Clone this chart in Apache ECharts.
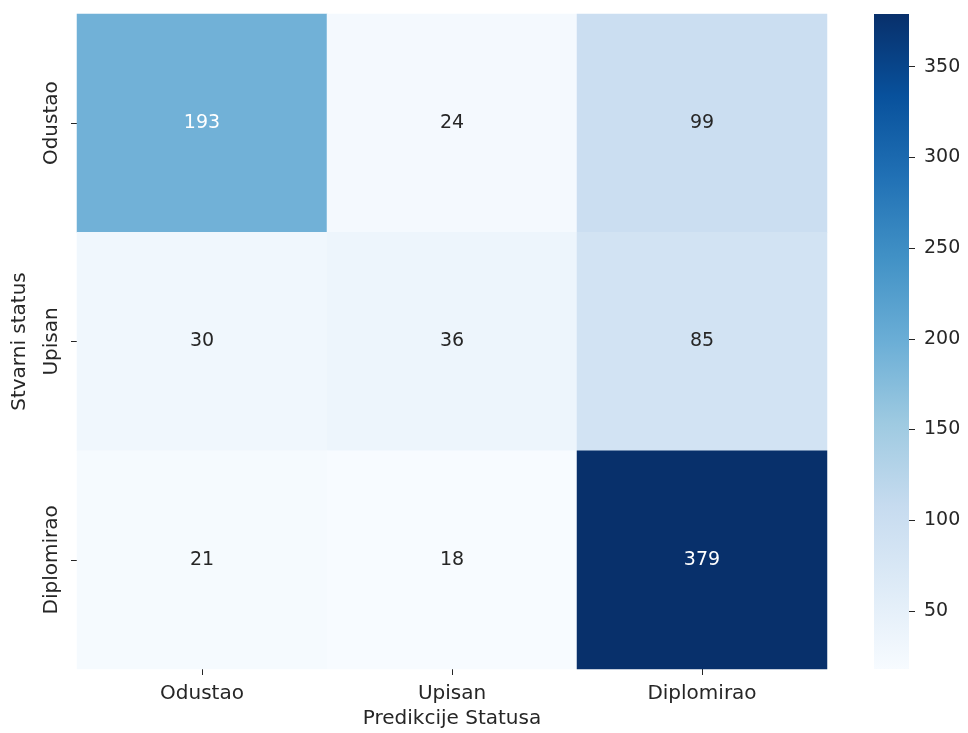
<!DOCTYPE html>
<html>
<head>
<meta charset="utf-8">
<script src="https://cdn.jsdelivr.net/npm/echarts@6/dist/echarts.min.js"></script>
<style>html,body{margin:0;padding:0;background:#fff;}#main{width:968px;height:733px;}</style>
</head>
<body>
<div id="main"></div>
<script>
const predictedLabels = ['Odustao', 'Upisan', 'Diplomirao'];
const actualLabels = ['Odustao', 'Upisan', 'Diplomirao'];
const matrix = [
  [193, 24, 99],
  [30, 36, 85],
  [21, 18, 379]
];
const colorbarTicks = [50, 100, 150, 200, 250, 300, 350];
const blues = ['#f7fbff', '#deebf7', '#c6dbef', '#9ecae1', '#6baed6', '#4292c6', '#2171b5', '#08519c', '#08306b'];

const FONT = 'DejaVu Sans';
const FS = 20;
const FN = 19;
const flat = matrix.flat();
const vMin = Math.min(...flat), vMax = Math.max(...flat);

const data = [];
matrix.forEach((row, r) => row.forEach((v, c) => {
  data.push({
    value: [c, r, v],
    label: { color: v > 180 ? '#ffffff' : '#262626' }
  });
}));

const gradStops = blues.map((c, i) => ({ offset: 1 - i / (blues.length - 1), color: c }));

const chart = echarts.init(document.getElementById('main'), null, { renderer: 'canvas' });
chart.setOption({
  animation: false,
  backgroundColor: '#ffffff',
  textStyle: { fontFamily: FONT },
  grid: [
    { left: 77, top: 14, width: 750, height: 655, outerBoundsMode: 'none', containLabel: false },
    { left: 874, top: 14, width: 35, height: 655, outerBoundsMode: 'none', containLabel: false }
  ],
  xAxis: [
    {
      type: 'category', gridIndex: 0, data: predictedLabels,
      name: 'Predikcije Statusa', nameLocation: 'middle', nameGap: 40,
      nameTextStyle: { fontFamily: FONT, fontSize: FS, color: '#262626' },
      axisLine: { show: false },
      axisTick: { show: true, alignWithLabel: true, length: 6, lineStyle: { color: '#262626' } },
      axisLabel: { fontFamily: FONT, fontSize: FS, color: '#262626', margin: 15 },
      splitLine: { show: false }
    },
    { type: 'category', gridIndex: 1, show: false, data: [''] }
  ],
  yAxis: [
    {
      type: 'category', gridIndex: 0, data: actualLabels, inverse: true,
      name: 'Stvarni status', nameLocation: 'middle', nameGap: 47,
      nameTextStyle: { fontFamily: FONT, fontSize: FS, color: '#262626' },
      axisLine: { show: false },
      axisTick: { show: true, alignWithLabel: true, length: 6, lineStyle: { color: '#262626' } },
      axisLabel: { fontFamily: FONT, fontSize: FS, color: '#262626', rotate: 90, margin: 15 },
      splitLine: { show: false }
    },
    {
      type: 'value', gridIndex: 1, position: 'right', min: vMin, max: vMax,
      axisLine: { show: false },
      axisTick: { show: true, length: 6, inside: false, lineStyle: { color: '#262626' }, customValues: colorbarTicks },
      axisLabel: { fontFamily: FONT, fontSize: FN, color: '#262626', margin: 15, customValues: colorbarTicks },
      splitLine: { show: false }
    }
  ],
  visualMap: {
    type: 'continuous', seriesIndex: 0, min: vMin, max: vMax, show: false,
    inRange: { color: blues }
  },
  series: [{
    type: 'heatmap', xAxisIndex: 0, yAxisIndex: 0, data: data,
    label: { show: true, fontFamily: FONT, fontSize: FN },
    itemStyle: { borderWidth: 0 },
    emphasis: { disabled: true }
  }, {
    type: 'bar', xAxisIndex: 1, yAxisIndex: 1, data: [vMax], barWidth: '100%', silent: true,
    itemStyle: { color: new echarts.graphic.LinearGradient(0, 0, 0, 1, gradStops) }
  }]
});
</script>
</body>
</html>
